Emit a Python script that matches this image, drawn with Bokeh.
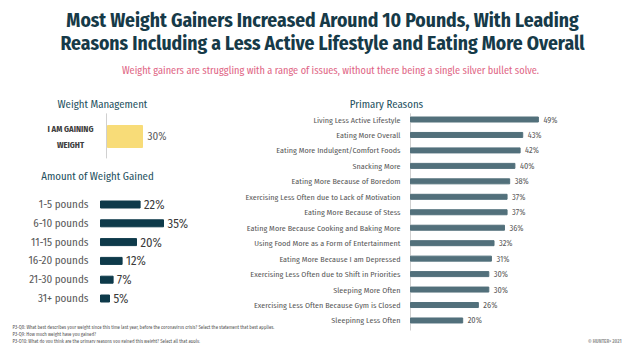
from bokeh.plotting import figure
from bokeh.models import Range1d, ColumnDataSource
from bokeh.core.properties import value
from bokeh.embed import file_html
from bokeh.resources import INLINE

# ---------------- data ----------------
title_lines = [
    "Most Weight Gainers Increased Around 10 Pounds, With Leading",
    "Reasons Including a Less Active Lifestyle and Eating More Overall",
]
subtitle = "Weight gainers are struggling with a range of issues, without there being a single silver bullet solve."

wm_title = "Weight Management"
wm_categories = ["I AM GAINING\nWEIGHT"]
wm_values = [30]

amount_title = "Amount of Weight Gained"
amount_categories = ["1-5 pounds", "6-10 pounds", "11-15 pounds", "16-20 pounds",
                     "21-30 pounds", "31+ pounds"]
amount_values = [22, 35, 20, 12, 7, 5]

reason_title = "Primary Reasons"
reason_categories = [
    "Living Less Active Lifestyle",
    "Eating More Overall",
    "Eating More Indulgent/Comfort Foods",
    "Snacking More",
    "Eating More Because of Boredom",
    "Exercising Less Often due to Lack of Motivation",
    "Eating More Because of Stess",
    "Eating More Because Cooking and Baking More",
    "Using Food More as a Form of Entertainment",
    "Eating More Because I am Depressed",
    "Exercising Less Often due to Shift in Priorities",
    "Sleeping More Often",
    "Exercising Less Often Because Gym is Closed",
    "Sleepinng Less Often",
]
reason_values = [49, 43, 42, 40, 38, 37, 37, 36, 32, 31, 30, 30, 26, 20]

footnotes = [
    "P3-Q8: What best describes your weight since this time last year, before the coronavirus crisis? Select the statement that best applies.",
    "P3-Q9: How much weight have you gained?",
    "P3-Q10: What do you think are the primary reasons you gained this weight? Select all that apply.",
]
logo = "\u00a9 HUNTER\u00b2 2021"

# ---------------- styles ----------------
W, H = 622, 343
NARROW = value("Fira Sans Condensed")
DARK = "#163a48"
SECTION = "#24505e"
GRAY = "#595959"

p = figure(width=W, height=H, x_range=Range1d(0, W), y_range=Range1d(H, 0),
           output_backend="svg", toolbar_location=None, min_border=0,
           x_axis_type=None, y_axis_type=None)
p.grid.visible = False
p.outline_line_color = None
p.background_fill_color = "white"

xr, yr = {}, {}
def panel(name, zero_px, px_per_unit, row0_px, row_step):
    xr[name] = Range1d(-zero_px / px_per_unit, (W - zero_px) / px_per_unit)
    yr[name] = Range1d((H - row0_px) / row_step, -row0_px / row_step)

panel("wm", 107, 35 / 30, 136, 30)
panel("amt", 100, 1.8, 204, 18.8)
panel("rs", 410, 2.61, 119, 15.46)
p.extra_x_ranges = xr
p.extra_y_ranges = yr

# ---------------- titles ----------------
p.text(x=[322, 322], y=[20, 43], text=title_lines, text_font=NARROW,
       text_font_style="bold", text_font_size="19.5px", text_color=DARK,
       text_align="center", text_baseline="middle")
p.text(x=[330], y=[70], text=[subtitle], text_font=NARROW, text_font_size="10.3px",
       text_color="#e06585", text_align="center", text_baseline="middle")
p.text(x=[102, 97, 386], y=[104, 176, 104], text=[wm_title, amount_title, reason_title],
       text_font=NARROW, text_font_size="10.8px", text_color=SECTION,
       text_align="center", text_baseline="middle")

# ---------------- weight management ----------------
wm = ColumnDataSource(dict(idx=list(range(len(wm_categories))), val=wm_values,
                           cat=wm_categories, lab=[f"{v}%" for v in wm_values]))
p.segment(x0=-1 / (35 / 30), x1=-1 / (35 / 30), y0=-0.77, y1=len(wm_categories) - 0.27,
          line_color="#d0d0d0", line_width=1, x_range_name="wm", y_range_name="wm")
p.hbar(y="idx", left=0, right="val", height=22 / 30, source=wm, color="#f8dc78",
       x_range_name="wm", y_range_name="wm")
p.text(x=0, y="idx", text="cat", source=wm, x_offset=-37, text_align="center",
       text_baseline="middle", text_font=NARROW, text_font_style="bold",
       text_font_size="8.5px", text_color="#404040", text_line_height=1.6,
       x_range_name="wm", y_range_name="wm")
p.text(x="val", y="idx", text="lab", source=wm, x_offset=5, text_align="left",
       text_baseline="middle", text_font=NARROW, text_font_size="11px",
       text_color=GRAY, x_range_name="wm", y_range_name="wm")

# ---------------- amount gained ----------------
amt = ColumnDataSource(dict(idx=list(range(len(amount_categories))), val=amount_values,
                            cat=amount_categories, lab=[f"{v}%" for v in amount_values]))
p.hbar(y="idx", left=0, right="val", height=7 / 18.8, source=amt, color="#0e3a4a",
       x_range_name="amt", y_range_name="amt")
p.text(x=0, y="idx", text="cat", source=amt, x_offset=-12, text_align="right",
       text_baseline="middle", text_font=NARROW, text_font_size="11px",
       text_color=GRAY, x_range_name="amt", y_range_name="amt")
p.text(x="val", y="idx", text="lab", source=amt, x_offset=4, text_align="left",
       text_baseline="middle", text_font=NARROW, text_font_size="12.5px",
       text_color="#3a3a3a", x_range_name="amt", y_range_name="amt")

# ---------------- primary reasons ----------------
rs = ColumnDataSource(dict(idx=list(range(len(reason_categories))), val=reason_values,
                           cat=reason_categories, lab=[f"{v}%" for v in reason_values]))
p.segment(x0=0, x1=0, y0=-0.4, y1=len(reason_categories) - 0.35, line_color="#d0d0d0",
          line_width=1, x_range_name="rs", y_range_name="rs")
p.hbar(y="idx", left=0, right="val", height=5 / 15.46, source=rs, color="#52707b",
       x_range_name="rs", y_range_name="rs")
p.text(x=0, y="idx", text="cat", source=rs, x_offset=-10, text_align="right",
       text_baseline="middle", text_font=NARROW, text_font_size="8.1px",
       text_color=GRAY, x_range_name="rs", y_range_name="rs")
p.text(x="val", y="idx", text="lab", source=rs, x_offset=5, text_align="left",
       text_baseline="middle", text_font=NARROW, text_font_size="8.3px",
       text_color=GRAY, x_range_name="rs", y_range_name="rs")

# ---------------- footer ----------------
p.text(x=[12, 12, 12], y=[327, 334, 340.5], text=footnotes, text_font=NARROW,
       text_font_size="4.8px", text_color="#555555", text_align="left",
       text_baseline="middle")
p.text(x=[621], y=[340.5], text=[logo], text_font=NARROW,
       text_font_size="5px", text_font_style="bold", text_color="#9a9a9a",
       text_align="right", text_baseline="middle")

open("out.html", "w").write(file_html(p, INLINE))
